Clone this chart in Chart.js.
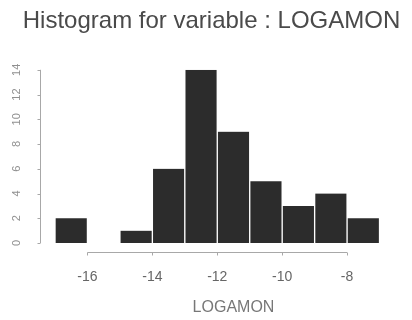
<!DOCTYPE html>
<html>
<head>
<meta charset="utf-8">
<script src="https://cdn.jsdelivr.net/npm/chart.js@4"></script>
<style>
  html, body { margin: 0; padding: 0; background: #ffffff; }
  #wrap { width: 412px; height: 320px; }
</style>
</head>
<body>
<div id="wrap"><canvas id="c" width="412" height="320"></canvas></div>
<script>
// ---- data ----
const binStarts = [-17, -16, -15, -14, -13, -12, -11, -10, -9, -8];
const binWidth = 1;
const counts = [2, 0, 1, 6, 14, 9, 5, 3, 4, 2];
const xTickValues = [-16, -14, -12, -10, -8];
const yTickValues = [0, 2, 4, 6, 8, 10, 12, 14];
const xLimits = [-17, -6];
const yLimits = [0, 14];
const chartTitle = 'Histogram for variable : LOGAMON';
const xTitle = 'LOGAMON';

const points = binStarts.map((s, i) => ({ x: s + binWidth / 2, y: counts[i] }));

// R-style detached axes drawn from the library's scales
const rAxes = {
  id: 'rAxes',
  afterDraw(chart) {
    const { ctx, chartArea, scales } = chart;
    const xs = scales.x, ys = scales.y;
    ctx.save();
    ctx.strokeStyle = '#a8a8a8';
    ctx.lineWidth = 1;
    // x axis
    const yAx = chartArea.bottom + 9.5;
    const x0 = xs.getPixelForValue(xTickValues[0]);
    const x1 = xs.getPixelForValue(xTickValues[xTickValues.length - 1]);
    ctx.beginPath();
    ctx.moveTo(x0, yAx); ctx.lineTo(x1, yAx);
    xTickValues.forEach(v => {
      const p = Math.round(xs.getPixelForValue(v)) + 0.5;
      ctx.moveTo(p, yAx); ctx.lineTo(p, yAx + 3);
    });
    ctx.stroke();
    // y axis
    const xAx = chartArea.left - 14.5;
    const ya = ys.getPixelForValue(yTickValues[0]);
    const yb = ys.getPixelForValue(yTickValues[yTickValues.length - 1]);
    ctx.beginPath();
    ctx.moveTo(xAx, ya); ctx.lineTo(xAx, yb);
    yTickValues.forEach(v => {
      const p = Math.round(ys.getPixelForValue(v)) + 0.5;
      ctx.moveTo(xAx, p); ctx.lineTo(xAx - 3, p);
    });
    ctx.stroke();
    ctx.restore();
  }
};

new Chart(document.getElementById('c'), {
  type: 'bar',
  data: {
    datasets: [{
      data: points,
      backgroundColor: '#2c2c2c',
      borderColor: '#ffffff',
      borderWidth: { left: 1, right: 1, top: 0, bottom: 0 },
      barPercentage: 1,
      categoryPercentage: 1
    }]
  },
  options: {
    responsive: false,
    animation: false,
    layout: { padding: { left: 11, right: 0, top: 0, bottom: 0 } },
    plugins: {
      legend: { display: false },
      tooltip: { enabled: false },
      title: {
        display: true,
        text: chartTitle,
        color: '#4a4a4a',
        font: { family: 'Liberation Sans, Arial, sans-serif', size: 24, weight: 'normal' },
        padding: { top: 7, bottom: 34 }
      }
    },
    scales: {
      x: {
        type: 'linear',
        offset: false,
        min: xLimits[0],
        max: xLimits[1],
        afterBuildTicks(scale) { scale.ticks = xTickValues.map(v => ({ value: v })); },
        afterFit(scale) { scale.height = 77; },
        grid: { display: false, drawTicks: false },
        border: { display: false },
        ticks: {
          color: '#666666',
          font: { family: 'Liberation Sans, Arial, sans-serif', size: 14 },
          padding: 26,
          maxRotation: 0,
          callback: v => String(v)
        },
        title: {
          display: true,
          text: xTitle,
          color: '#777777',
          font: { family: 'Liberation Sans, Arial, sans-serif', size: 16 },
          padding: { top: 0, bottom: 3 }
        }
      },
      y: {
        min: yLimits[0],
        max: yLimits[1],
        afterBuildTicks(scale) { scale.ticks = yTickValues.map(v => ({ value: v })); },
        afterFit(scale) { scale.width = 44; },
        grid: { display: false, drawTicks: false },
        border: { display: false },
        ticks: {
          color: '#909090',
          font: { family: 'Liberation Sans, Arial, sans-serif', size: 11 },
          minRotation: 90,
          maxRotation: 90,
          crossAlign: 'center',
          padding: 32
        }
      }
    }
  },
  plugins: [rAxes]
});
</script>
</body>
</html>
